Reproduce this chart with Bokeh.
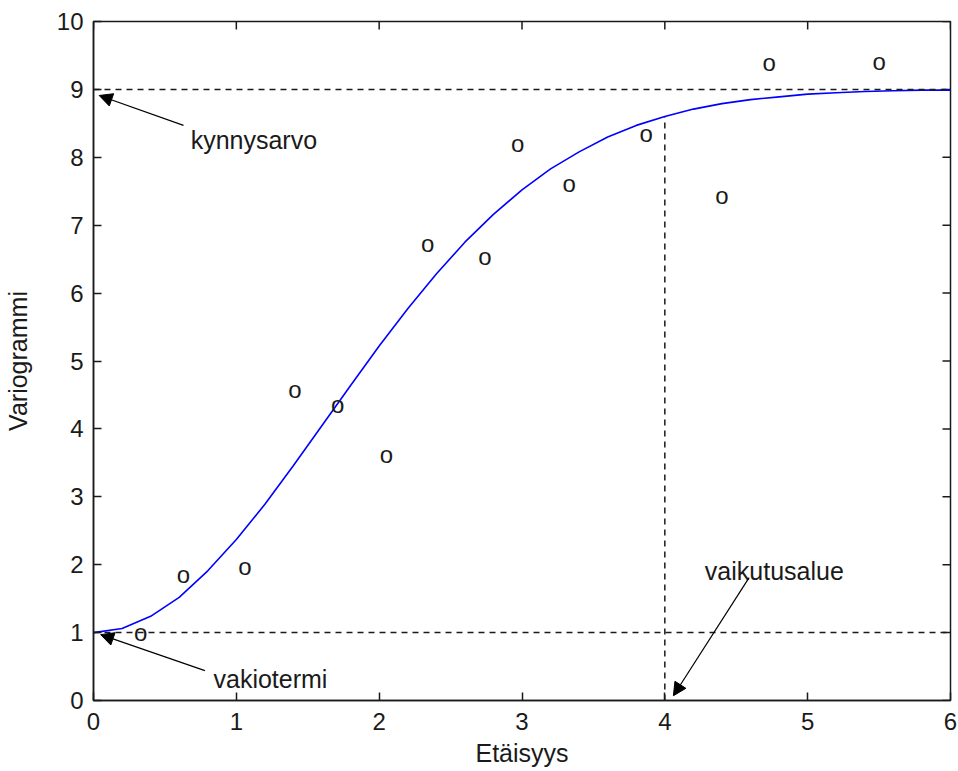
import math

from bokeh.plotting import figure
from bokeh.models import Range1d, FixedTicker, Arrow, NormalHead, Span, ColumnDataSource
from bokeh.core.properties import value
from bokeh.embed import file_html
from bokeh.resources import INLINE

# Experimental variogram: lag distance and semivariance
lag = [0.33, 0.63, 1.06, 1.41, 1.71, 2.05, 2.34, 2.74, 2.97, 3.33, 3.87, 4.40, 4.73, 5.50]
gamma_exp = [0.98, 1.84, 1.96, 4.56, 4.34, 3.61, 6.72, 6.52, 8.19, 7.60, 8.34, 7.42, 9.38, 9.40]

# Fitted model curve
model_h = [0.0, 0.2, 0.4, 0.6, 0.8, 1.0, 1.2, 1.4, 1.6, 1.8, 2.0, 2.2, 2.4, 2.6, 2.8, 3.0,
           3.2, 3.4, 3.6, 3.8, 4.0, 4.2, 4.4, 4.6, 4.8, 5.0, 5.2, 5.4, 5.6, 5.8, 6.0]
model_gamma = [1.00, 1.06, 1.24, 1.52, 1.91, 2.37, 2.89, 3.46, 4.05, 4.64, 5.22, 5.77, 6.28,
               6.75, 7.16, 7.52, 7.83, 8.08, 8.30, 8.47, 8.60, 8.71, 8.79, 8.85, 8.89, 8.93,
               8.95, 8.97, 8.98, 8.99, 8.99]

# Model parameters
nugget = 1.0
sill = 9.0
range_a = 4.0
gamma_at_range = model_gamma[model_h.index(range_a)]

x_ticks = [0, 1, 2, 3, 4, 5, 6]
y_ticks = [0, 1, 2, 3, 4, 5, 6, 7, 8, 9, 10]

FONT = "Liberation Sans"
INK = "#1a1a1a"
TICK_LEN = 8

p = figure(width=958, height=771, output_backend="svg", toolbar_location=None,
           x_range=Range1d(0, 6), y_range=Range1d(0, 10),
           x_axis_label="Etäisyys", y_axis_label="Variogrammi",
           min_border_left=92, min_border_right=8, min_border_top=21, min_border_bottom=71)
p.grid.visible = False
p.outline_line_color = INK
p.outline_line_width = 1.5
p.background_fill_color = "white"
p.border_fill_color = "white"

for ax, ticks in ((p.xaxis[0], x_ticks), (p.yaxis[0], y_ticks)):
    ax.ticker = FixedTicker(ticks=ticks)
    ax.axis_line_color = INK
    ax.axis_line_width = 1.5
    ax.major_tick_line_color = INK
    ax.major_tick_line_width = 1.5
    ax.major_tick_in = TICK_LEN
    ax.major_tick_out = 0
    ax.minor_tick_line_color = None
    ax.major_label_text_font = FONT
    ax.major_label_text_font_size = "24px"
    ax.major_label_text_color = INK
    ax.axis_label_text_font = FONT
    ax.axis_label_text_font_style = "normal"
    ax.axis_label_text_color = INK
    ax.axis_label_text_font_size = "25px"

p.xaxis[0].major_label_standoff = 12
p.xaxis[0].axis_label_standoff = 6
p.yaxis[0].major_label_standoff = 10
p.yaxis[0].axis_label_standoff = 22

# Inward ticks on the top and right edges of the box
p.ray(x=x_ticks, y=[10] * len(x_ticks), length=TICK_LEN, length_units="screen",
      angle=-math.pi / 2, line_color=INK, line_width=1.5)
p.ray(x=[6] * len(y_ticks), y=y_ticks, length=TICK_LEN, length_units="screen",
      angle=math.pi, line_color=INK, line_width=1.5)

# Sill and nugget reference lines
for level in (sill, nugget):
    p.add_layout(Span(location=level, dimension="width", line_color=INK,
                      line_width=1.5, line_dash="6 5"))

# Range marker
p.segment(x0=[range_a], y0=[0], x1=[range_a], y1=[gamma_at_range],
          line_color=INK, line_width=1.5, line_dash="6 5")

# Model curve
p.line(model_h, model_gamma, line_color="#0000ff", line_width=1.6)

# Experimental points drawn as "o" characters
pts = ColumnDataSource(dict(x=lag, y=gamma_exp, t=["o"] * len(lag)))
p.text(x="x", y="y", text="t", source=pts, text_font=value(FONT),
       text_font_size="24px", text_color=INK, text_align="center",
       text_baseline="middle", y_offset=-1)

# Annotations: label text, label anchor, arrow tail and head
notes = [
    ("kynnysarvo", 0.68, 8.25, 0.63, 8.47, 0.04, 8.91),
    ("vakiotermi", 0.84, 0.32, 0.78, 0.44, 0.05, 0.97),
    ("vaikutusalue", 4.28, 1.91, 4.59, 1.81, 4.06, 0.07),
]
for txt, lx, ly, xs, ys, xe, ye in notes:
    p.text(x=[lx], y=[ly], text=[txt], text_font=value(FONT), text_font_size="25px",
           text_color=INK, text_align="left", text_baseline="alphabetic")
    p.add_layout(Arrow(end=NormalHead(size=13, fill_color="black", line_color="black"),
                       x_start=xs, y_start=ys, x_end=xe, y_end=ye,
                       line_color="black", line_width=1.2))

open("out.html", "w").write(file_html(p, INLINE))
